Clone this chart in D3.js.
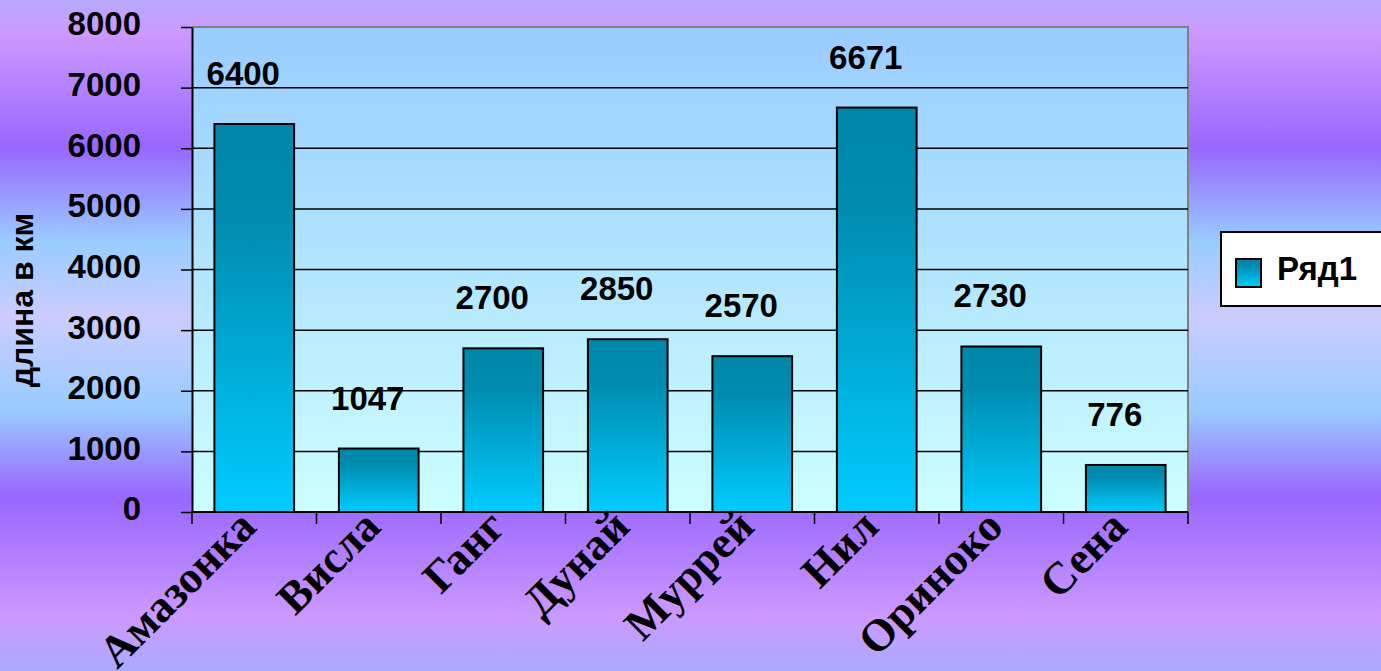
<!DOCTYPE html>
<html>
<head>
<meta charset="utf-8">
<script src="https://cdn.jsdelivr.net/npm/d3@7"></script>
<style>
    body { margin: 0; overflow: hidden; }
    svg { display: block; }
</style>
</head>
<body>
<div id="chart"></div>
<script>
const rivers = ['Амазонка', 'Висла', 'Ганг', 'Дунай', 'Муррей', 'Нил', 'Ориноко', 'Сена']
const lengths = [6400, 1047, 2700, 2850, 2570, 6671, 2730, 776]
const yTicks = [0, 1000, 2000, 3000, 4000, 5000, 6000, 7000, 8000]
const seriesName = 'Ряд1'
const axisTitle = 'длина в км'

const [WIDTH, HEIGHT] = [1381, 671]
const MARGIN = { left: 192, right: 193, top: 27, bottom: 159 }
const SANS = '"Liberation Sans", Arial, sans-serif'
const SERIF = '"Liberation Serif", "Times New Roman", serif'

const data = rivers.map((r, i) => ({ river: r, value: lengths[i] }))

const svg = d3.select('#chart').append('svg')
    .attr('width', WIDTH)
    .attr('height', HEIGHT)

const defs = svg.append('defs')

function vGradient(id, stops) {
    const g = defs.append('linearGradient')
        .attr('id', id)
        .attr('x1', 0).attr('y1', 0).attr('x2', 0).attr('y2', 1)
    stops.forEach(([o, c]) => g.append('stop').attr('offset', o).attr('stop-color', c))
}

vGradient('bg', [[0, '#b9a9ff'], [0.05, '#cc99ff'], [0.22, '#9966ff'], [0.36, '#99ccff'],
    [0.47, '#ccccff'], [0.61, '#99ccff'], [0.74, '#9966ff'], [0.92, '#cc99ff'], [1, '#aaaaff']])
vGradient('plotBg', [[0, '#99ccff'], [1, '#ccffff']])
vGradient('barFill', [[0, '#0086a8'], [0.25, '#008cb0'], [1, '#00ccff']])

svg.append('rect')
    .attr('width', WIDTH).attr('height', HEIGHT)
    .attr('fill', 'url(#bg)')

const x = d3.scaleBand(rivers, [MARGIN.left, WIDTH - MARGIN.right])
    .paddingInner(0.36)
    .paddingOuter(0.18)
const y = d3.scaleLinear([0, 8000], [HEIGHT - MARGIN.bottom, MARGIN.top])

const [x0, x1] = x.range()
const [yb, yt] = y.range()
const half = (x.step() - x.bandwidth()) / 2

// plot area
svg.append('rect')
    .attr('x', x0).attr('y', yt)
    .attr('width', x1 - x0).attr('height', yb - yt)
    .attr('fill', 'url(#plotBg)')

svg.append('path')
    .attr('d', `M${x0},${yt}H${x1}V${yb}`)
    .attr('fill', 'none')
    .attr('stroke', '#808080')
    .attr('stroke-width', 2)

// gridlines
svg.append('g')
    .selectAll('line')
    .data(yTicks.filter(t => t > 0 && t < 8000))
    .join('line')
    .attr('x1', x0).attr('x2', x1)
    .attr('y1', d => y(d)).attr('y2', d => y(d))
    .attr('stroke', '#000')
    .attr('stroke-width', 1.5)

// bars
svg.append('g')
    .selectAll('rect')
    .data(data)
    .join('rect')
    .attr('x', d => x(d.river))
    .attr('y', d => y(d.value))
    .attr('width', x.bandwidth())
    .attr('height', d => yb - y(d.value))
    .attr('fill', 'url(#barFill)')
    .attr('stroke', '#000')
    .attr('stroke-width', 2)

// data labels
svg.append('g')
    .selectAll('text')
    .data(data)
    .join('text')
    .attr('x', d => x(d.river) + x.bandwidth() / 2 - 11)
    .attr('y', d => y(d.value) - 39)
    .attr('text-anchor', 'middle')
    .attr('font-family', SANS)
    .attr('font-weight', 'bold')
    .attr('font-size', 33)
    .text(d => d.value)

// y axis
svg.append('g')
    .attr('transform', `translate(${x0},0)`)
    .call(d3.axisLeft(y).tickValues(yTicks).tickFormat(d3.format('d'))
        .tickSize(11).tickPadding(40).tickSizeOuter(0))
    .call(g => g.select('.domain').attr('stroke-width', 2))
    .call(g => g.selectAll('.tick line').attr('stroke-width', 1.5))
    .call(g => g.selectAll('text')
        .attr('dy', '0.24em')
        .attr('fill', '#000')
        .attr('font-family', SANS)
        .attr('font-weight', 'bold')
        .attr('font-size', 33))

// x axis: ticks on category boundaries
const xAxis = svg.append('g')
    .attr('transform', `translate(0,${yb})`)

xAxis.append('line')
    .attr('x1', x0).attr('x2', x1)
    .attr('stroke', '#000')
    .attr('stroke-width', 2)

xAxis.selectAll('.bound')
    .data(rivers.map(r => x(r) - half).concat([x1]))
    .join('line')
    .classed('bound', true)
    .attr('x1', d => d).attr('x2', d => d)
    .attr('y1', 0).attr('y2', 12)
    .attr('stroke', '#000')
    .attr('stroke-width', 1.5)

xAxis.selectAll('text')
    .data(rivers)
    .join('text')
    .attr('transform', d => `translate(${x(d) + x.bandwidth() / 2 + 4},17) rotate(-45)`)
    .attr('text-anchor', 'end')
    .attr('font-family', SERIF)
    .attr('font-weight', 'bold')
    .attr('font-size', 45)
    .text(d => d)

// axis title
svg.append('text')
    .attr('transform', 'translate(33,300) rotate(-90)')
    .attr('text-anchor', 'middle')
    .attr('font-family', SANS)
    .attr('font-weight', 'bold')
    .attr('font-size', 32)
    .text(axisTitle)

// legend
const legend = svg.append('g').attr('transform', 'translate(1221,232)')
legend.append('rect')
    .attr('width', 175).attr('height', 74)
    .attr('fill', '#fff')
    .attr('stroke', '#000')
    .attr('stroke-width', 2)
legend.append('rect')
    .attr('x', 15).attr('y', 27)
    .attr('width', 25).attr('height', 28)
    .attr('fill', 'url(#barFill)')
    .attr('stroke', '#000')
    .attr('stroke-width', 2)
legend.append('text')
    .attr('x', 56).attr('y', 48)
    .attr('font-family', SANS)
    .attr('font-weight', 'bold')
    .attr('font-size', 33)
    .text(seriesName)
</script>
</body>
</html>
